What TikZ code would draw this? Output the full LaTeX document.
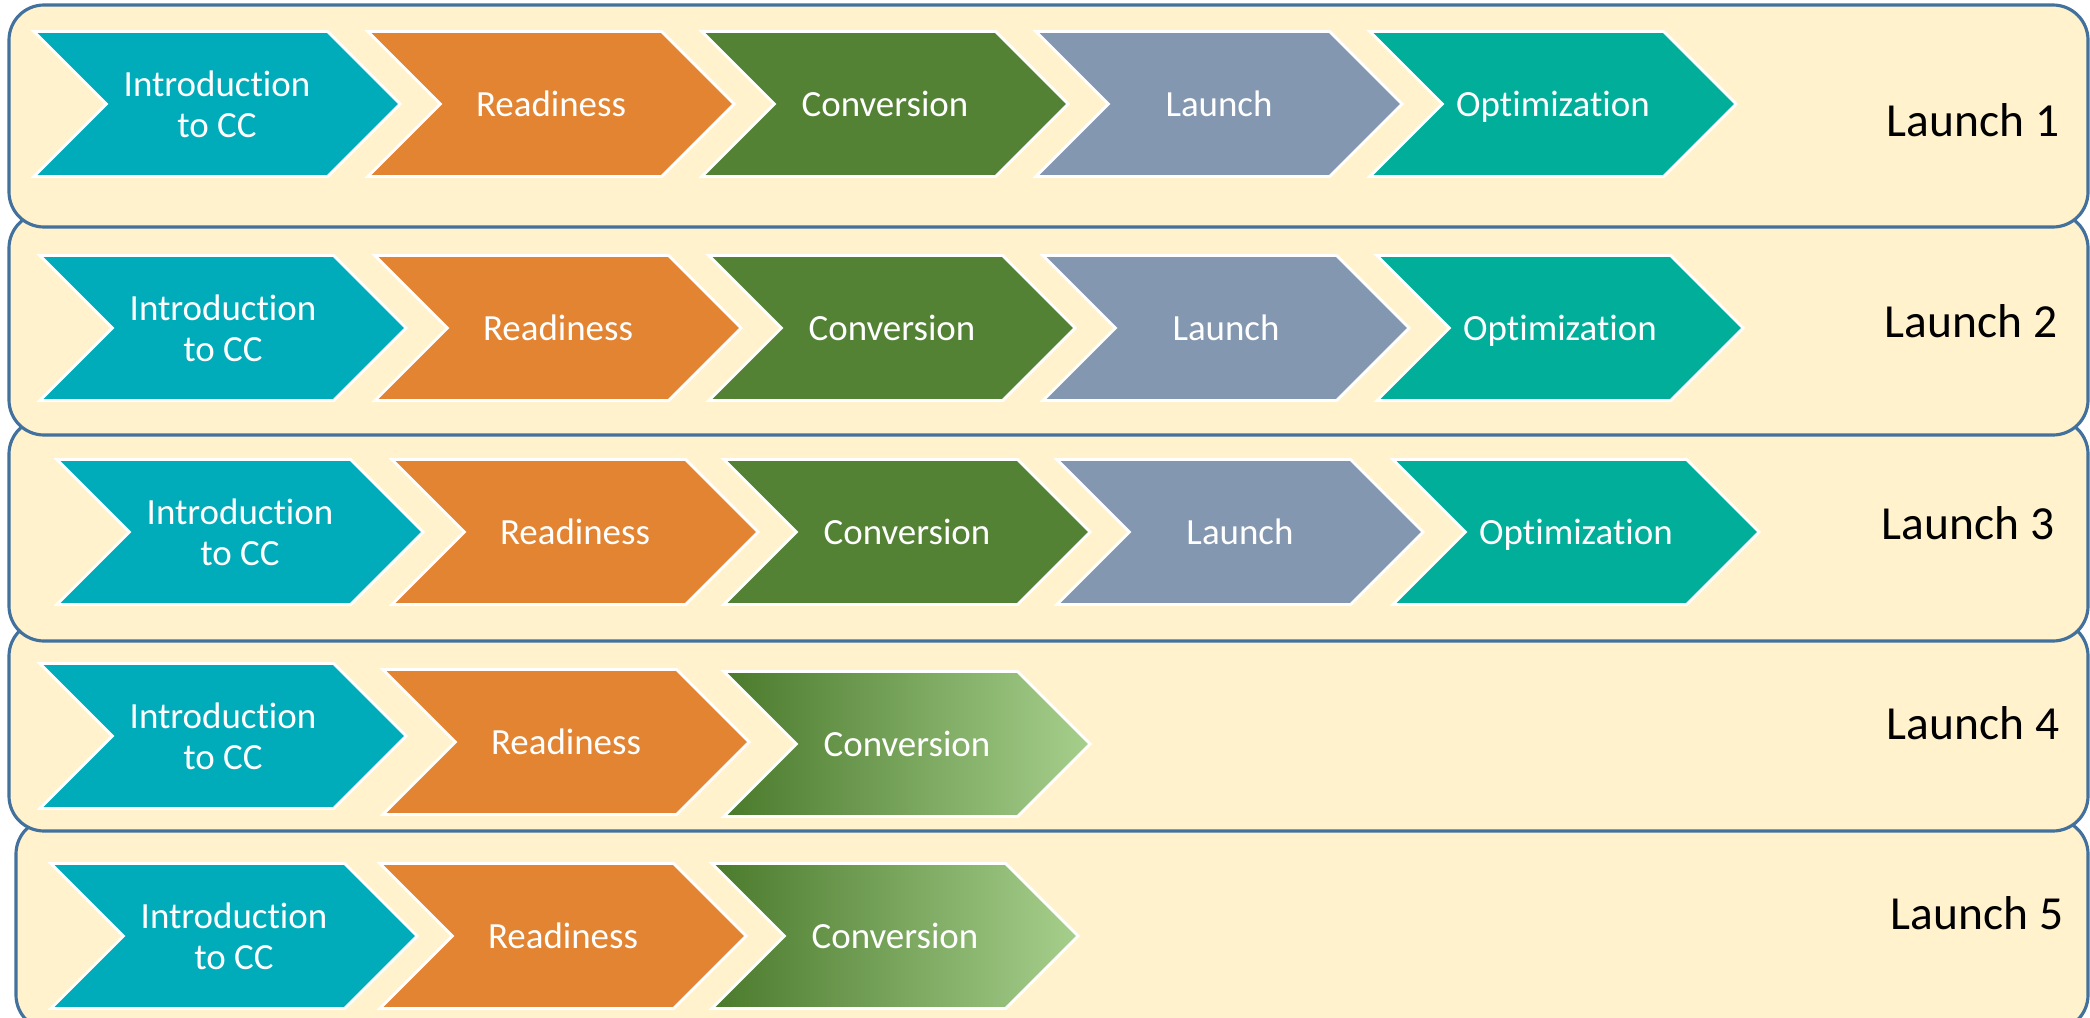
\documentclass[tikz,border=0pt]{standalone}
\usepackage{fontspec}
\setmainfont{Carlito}[Ligatures=NoCommon]
\usetikzlibrary{shapes.symbols}
\definecolor{bandfill}{HTML}{FFF2CC}
\definecolor{bandline}{HTML}{41719C}
\definecolor{introcol}{HTML}{00ACBA}
\definecolor{readycol}{HTML}{E38432}
\definecolor{convcol}{HTML}{548235}
\definecolor{launchcol}{HTML}{8497B0}
\definecolor{optcol}{HTML}{00AE9A}
\definecolor{gdark}{HTML}{4A7A2C}
\definecolor{gmid}{HTML}{72AE48}
\definecolor{glight}{HTML}{A6CF8C}
\begin{document}
\begin{tikzpicture}[x=0.01cm, y=-0.01cm,
	band/.style={draw=bandline, fill=bandfill, line width=0.9pt, rounded corners=0.35cm},
	chev/.style={signal, signal from=west, signal to=east, signal pointer angle=90,
		minimum width=3.66cm, minimum height=1.45cm, inner sep=0pt, text depth=0pt,
		draw=white, line width=0.8pt, text=white, align=center,
		font=\fontsize{10.5}{11.5}\selectfont},
	intro/.style={chev, fill=introcol},
	ready/.style={chev, fill=readycol},
	conv/.style={chev, fill=convcol},
	convfade/.style={chev, left color=gdark, middle color=gmid, right color=glight},
	go/.style={chev, fill=launchcol},
	opt/.style={chev, fill=optcol},
	lbl/.style={font=\fontsize{13.5}{15}\selectfont}]
	\useasboundingbox (0, 0) rectangle (2090, 1018);
	% bands, lowest first
	\draw[band] (16, 819) rectangle (2088, 1030);
	\draw[band] (9, 621) rectangle (2088, 831);
	\draw[band] (9, 419) rectangle (2088, 641);
	\draw[band] (9, 213) rectangle (2088, 435);
	\draw[band] (9, 5) rectangle (2088, 227);
	% launch 1
	\node[intro] at (217, 104) (i1) {Introduction\\to CC};
	\node[ready] at (551, 104) (r1) {Readiness};
	\node[conv] at (885, 104) (c1) {Conversion};
	\node[go] at (1219, 104) (g1) {Launch};
	\node[opt] at (1553, 104) (o1) {Optimization};
	\node[lbl] at (1973, 120) (n1) {Launch 1};
	% launch 2
	\node[intro] at (223, 328) (i2) {Introduction\\to CC};
	\node[ready] at (558, 328) (r2) {Readiness};
	\node[conv] at (892, 328) (c2) {Conversion};
	\node[go] at (1226, 328) (g2) {Launch};
	\node[opt] at (1560, 328) (o2) {Optimization};
	\node[lbl] at (1971, 321) (n2) {Launch 2};
	% launch 3
	\node[intro] at (240, 532) (i3) {Introduction\\to CC};
	\node[ready] at (575, 532) (r3) {Readiness};
	\node[conv] at (907, 532) (c3) {Conversion};
	\node[go] at (1240, 532) (g3) {Launch};
	\node[opt] at (1576, 532) (o3) {Optimization};
	\node[lbl] at (1968, 523) (n3) {Launch 3};
	% launch 4
	\node[intro] at (223, 736) (i4) {Introduction\\to CC};
	\node[ready] at (566, 742) (r4) {Readiness};
	\node[convfade] at (907, 744) (c4) {Conversion};
	\node[lbl] at (1973, 723) (n4) {Launch 4};
	% launch 5
	\node[intro] at (234, 936) (i5) {Introduction\\to CC};
	\node[ready] at (563, 936) (r5) {Readiness};
	\node[convfade] at (895, 936) (c5) {Conversion};
	\node[lbl] at (1977, 913) (n5) {Launch 5};
\end{tikzpicture}
\end{document}
